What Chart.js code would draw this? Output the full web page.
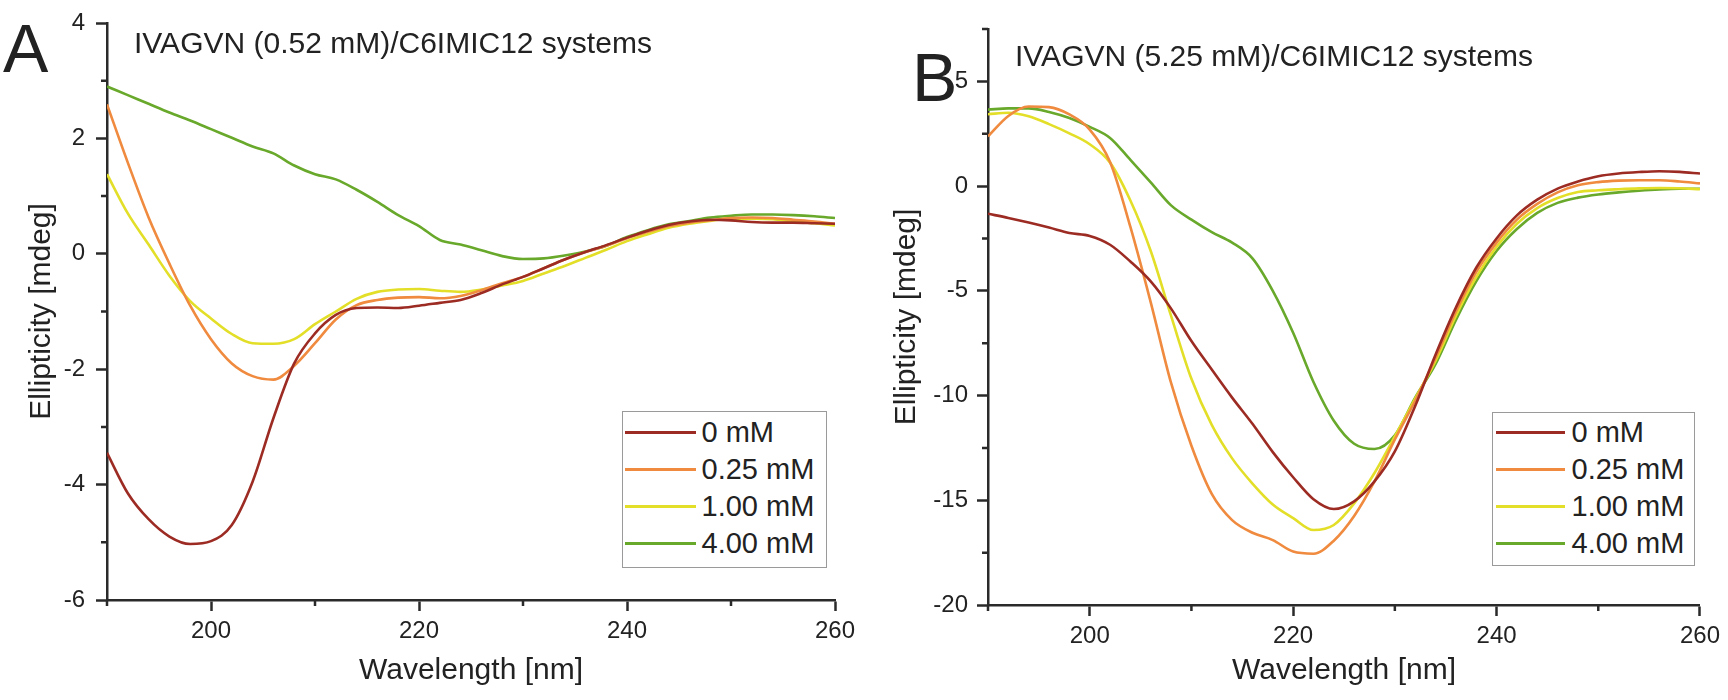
<!DOCTYPE html>
<html>
<head>
    <title>IVAGVN / C6IMIC12 CD spectra</title>
    <script src="https://cdn.jsdelivr.net/npm/chart.js@4.4.0/dist/chart.umd.min.js"></script>
    <style>
        body { margin: 0; background: #fff; }
        #page { position: relative; width: 1728px; height: 700px; overflow: hidden; background: #fff;
                font-family: "Liberation Sans", Arial, sans-serif; color: #222; }
        canvas { position: absolute; top: 0; }
        .txt { position: absolute; line-height: 1; white-space: nowrap; }
        .letter { font-size: 68px; }
        .title { font-size: 30px; }
        .legend { position: absolute; box-sizing: border-box; border: 1.5px solid #9a9a9a; background: #fff; }
        .row { display: flex; align-items: center; height: 37px; font-size: 29px; line-height: 37px; white-space: nowrap; }
        .swatch { display: inline-block; height: 3px; }
    </style>
</head>
<body>
<div id="page">
    <canvas id="chartA" width="864" height="700" style="left:0"></canvas>
    <canvas id="chartB" width="864" height="700" style="left:864px"></canvas>

    <div class="txt letter" style="left:3px; top:14px">A</div>
    <div class="txt letter" style="left:912px; top:43px">B</div>
    <div class="txt title" style="left:134px; top:28px">IVAGVN (0.52 mM)/C6IMIC12 systems</div>
    <div class="txt title" style="left:1015px; top:41px">IVAGVN (5.25 mM)/C6IMIC12 systems</div>

    <div class="legend" id="legendA" style="left:622px; top:411px; width:205px; height:157px; padding-top:2px"></div>
    <div class="legend" id="legendB" style="left:1492px; top:412px; width:203px; height:154px; padding-top:1px"></div>
</div>

<script>
    // Wavelength grid [nm], shared by both panels
    const wavelength = [190, 192, 194, 196, 198, 200, 202, 204, 206, 208, 210, 212,
                        214, 216, 218, 220, 222, 224, 226, 228, 230, 232, 234, 236,
                        238, 240, 242, 244, 246, 248, 250, 252, 254, 256, 258, 260];

    const seriesLabels = ['0 mM', '0.25 mM', '1.00 mM', '4.00 mM'];
    const seriesColors = ['#9c2b23', '#ef8a3e', '#e3df28', '#68a82a'];

    // Panel A: IVAGVN 0.52 mM, ellipticity [mdeg]
    const a0   = [-3.45, -4.15, -4.60, -4.90, -5.03, -4.98, -4.70, -3.95, -2.85, -1.90, -1.38, -1.06,
                  -0.94, -0.93, -0.94, -0.90, -0.85, -0.80, -0.68, -0.53, -0.40, -0.25, -0.10, 0.03,
                  0.15, 0.28, 0.40, 0.50, 0.56, 0.59, 0.58, 0.55, 0.54, 0.54, 0.53, 0.52];
    const a025 = [2.59, 1.58, 0.63, -0.17, -0.90, -1.48, -1.90, -2.12, -2.18, -1.94, -1.55, -1.14,
                  -0.89, -0.80, -0.76, -0.75, -0.77, -0.73, -0.63, -0.51, -0.40, -0.25, -0.10, 0.03,
                  0.14, 0.27, 0.38, 0.48, 0.54, 0.58, 0.62, 0.63, 0.62, 0.59, 0.56, 0.52];
    const a100 = [1.38, 0.70, 0.16, -0.38, -0.82, -1.12, -1.39, -1.55, -1.56, -1.48, -1.22, -1.00,
                  -0.78, -0.66, -0.62, -0.61, -0.64, -0.66, -0.62, -0.55, -0.47, -0.34, -0.21, -0.07,
                  0.07, 0.22, 0.34, 0.45, 0.52, 0.57, 0.61, 0.61, 0.60, 0.56, 0.53, 0.49];
    const a400 = [2.90, 2.75, 2.60, 2.45, 2.31, 2.16, 2.01, 1.86, 1.74, 1.53, 1.38, 1.29,
                  1.11, 0.90, 0.67, 0.48, 0.24, 0.16, 0.06, -0.04, -0.09, -0.08, -0.03, 0.04,
                  0.14, 0.29, 0.41, 0.51, 0.57, 0.63, 0.66, 0.68, 0.68, 0.67, 0.65, 0.62];

    // Panel B: IVAGVN 5.25 mM, ellipticity [mdeg]
    const b0   = [-1.32, -1.52, -1.74, -1.98, -2.24, -2.38, -2.80, -3.60, -4.55, -5.85, -7.40, -8.76,
                  -10.10, -11.35, -12.70, -13.90, -14.95, -15.42, -15.05, -14.10, -12.67, -10.50, -8.05, -5.80,
                  -3.90, -2.50, -1.40, -0.65, -0.12, 0.22, 0.47, 0.60, 0.67, 0.71, 0.68, 0.60];
    const b025 = [2.37, 3.35, 3.80, 3.77, 3.42, 2.70, 1.15, -1.95, -5.55, -9.40, -12.40, -14.70,
                  -15.95, -16.55, -16.90, -17.45, -17.55, -16.93, -15.75, -14.10, -12.10, -10.25, -8.20, -6.00,
                  -4.10, -2.70, -1.60, -0.85, -0.30, 0.04, 0.19, 0.26, 0.28, 0.28, 0.22, 0.13];
    const b100 = [3.43, 3.50, 3.33, 2.96, 2.52, 2.00, 1.12, -0.69, -3.10, -6.20, -9.20, -11.40,
                  -13.00, -14.20, -15.20, -15.85, -16.42, -16.18, -15.15, -13.70, -11.95, -10.15, -8.35, -6.20,
                  -4.35, -2.90, -1.80, -1.05, -0.57, -0.28, -0.20, -0.15, -0.11, -0.09, -0.10, -0.15];
    const b400 = [3.65, 3.71, 3.71, 3.54, 3.25, 2.83, 2.30, 1.25, 0.18, -0.92, -1.60, -2.20,
                  -2.70, -3.45, -5.00, -7.00, -9.35, -11.20, -12.30, -12.55, -11.90, -10.10, -8.50, -6.40,
                  -4.55, -3.10, -2.05, -1.28, -0.80, -0.55, -0.40, -0.30, -0.22, -0.16, -0.13, -0.13];

    // Tick values
    const xTicks  = [200, 220, 240, 260];
    const xMinor  = [190, 210, 230, 250];
    const aYTicks = [-6, -4, -2, 0, 2, 4];
    const aYMinor = [-5, -3, -1, 1, 3];
    const bYTicks = [-20, -15, -10, -5, 0, 5];
    const bYMinor = [-17.5, -12.5, -7.5, -2.5, 2.5, 7.5];

    const AXIS = '#2a2a2a';
    Chart.defaults.font.family = '"Liberation Sans", Arial, sans-serif';
    Chart.defaults.color = '#222';

    // short outward minor ticks, placed with the chart's own scales
    const minorTicks = {
        id: 'minorTicks',
        afterDraw(chart, args, opts) {
            const ctx = chart.ctx;
            const xs = chart.scales.x, ys = chart.scales.y;
            ctx.save();
            ctx.strokeStyle = AXIS;
            ctx.lineWidth = 2.5;
            ctx.beginPath();
            opts.x.forEach(function (v) {
                const p = xs.getPixelForValue(v);
                ctx.moveTo(p, xs.top);
                ctx.lineTo(p, xs.top + 6);
            });
            opts.y.forEach(function (v) {
                const p = ys.getPixelForValue(v);
                ctx.moveTo(ys.right, p);
                ctx.lineTo(ys.right - 6, p);
            });
            ctx.stroke();
            ctx.restore();
        }
    };

    function toPoints(values) {
        return wavelength.map(function (w, i) { return { x: w, y: values[i] }; });
    }

    function createChart(canvasId, series, yMin, yMax, yTicks, yMinor, layout) {
        const ctx = document.getElementById(canvasId).getContext('2d');
        return new Chart(ctx, {
            type: 'line',
            data: {
                datasets: series.map(function (values, i) {
                    return {
                        label: seriesLabels[i],
                        data: toPoints(values),
                        borderColor: seriesColors[i],
                        backgroundColor: seriesColors[i],
                        borderWidth: 2.6,
                        pointRadius: 0,
                        cubicInterpolationMode: 'monotone',
                        fill: false,
                    };
                }),
            },
            options: {
                responsive: false,
                animation: false,
                events: [],
                layout: { padding: layout.padding },
                plugins: {
                    legend: { display: false },
                    tooltip: { enabled: false },
                    minorTicks: { x: xMinor, y: yMinor },
                },
                scales: {
                    x: {
                        type: 'linear',
                        min: 190,
                        max: 260,
                        afterBuildTicks: function (scale) { scale.ticks = xTicks.map(function (v) { return { value: v }; }); },
                        afterFit: function (scale) { scale.height = layout.xHeight; },
                        grid: { drawOnChartArea: false, drawTicks: true, tickLength: 11, tickWidth: 2.5, tickColor: AXIS },
                        border: { display: true, color: AXIS, width: 2.5 },
                        ticks: { font: { size: 24, lineHeight: 1 }, color: '#222', padding: 8, maxRotation: 0, autoSkip: false },
                        title: { display: true, text: 'Wavelength [nm]', font: { size: 30 }, color: '#222', padding: { top: 0, bottom: 11 } },
                    },
                    y: {
                        type: 'linear',
                        min: yMin,
                        max: yMax,
                        afterBuildTicks: function (scale) { scale.ticks = yTicks.map(function (v) { return { value: v }; }); },
                        afterFit: function (scale) { scale.width = layout.yWidth; },
                        grid: { drawOnChartArea: false, drawTicks: true, tickLength: 11, tickWidth: 2.5, tickColor: AXIS },
                        border: { display: true, color: AXIS, width: 2.5 },
                        ticks: { font: { size: 24, lineHeight: 1 }, color: '#222', padding: layout.yLabelPad, autoSkip: false },
                        title: { display: true, text: 'Ellipticity [mdeg]', font: { size: 30 }, color: '#222', padding: { top: layout.yTitlePad, bottom: 0 } },
                    },
                },
            },
            plugins: [minorTicks],
        });
    }

    // legend drawn as page text, built from the chart's datasets
    function buildLegend(chart, boxId, lineLeft, lineWidth, gap) {
        const box = document.getElementById(boxId);
        chart.data.datasets.forEach(function (ds) {
            const row = document.createElement('div');
            row.className = 'row';
            const sw = document.createElement('span');
            sw.className = 'swatch';
            sw.style.background = ds.borderColor;
            sw.style.width = lineWidth + 'px';
            sw.style.marginLeft = lineLeft + 'px';
            sw.style.marginRight = gap + 'px';
            const label = document.createElement('span');
            label.textContent = ds.label;
            row.appendChild(sw);
            row.appendChild(label);
            box.appendChild(row);
        });
    }

    const chartA = createChart('chartA', [a0, a025, a100, a400], -6, 4, aYTicks, aYMinor,
        { padding: { left: 0, top: 14, right: 29, bottom: 0 }, xHeight: 100, yWidth: 107, yLabelPad: 11, yTitlePad: 24 });
    const chartB = createChart('chartB', [b0, b025, b100, b400], -20, 7.5, bYTicks, bYMinor,
        { padding: { left: 0, top: 29, right: 24, bottom: 0 }, xHeight: 95, yWidth: 124, yLabelPad: 9, yTitlePad: 25 });

    buildLegend(chartA, 'legendA', 1.5, 71, 6);
    buildLegend(chartB, 'legendB', 2.5, 69, 7);
</script>
</body>
</html>
